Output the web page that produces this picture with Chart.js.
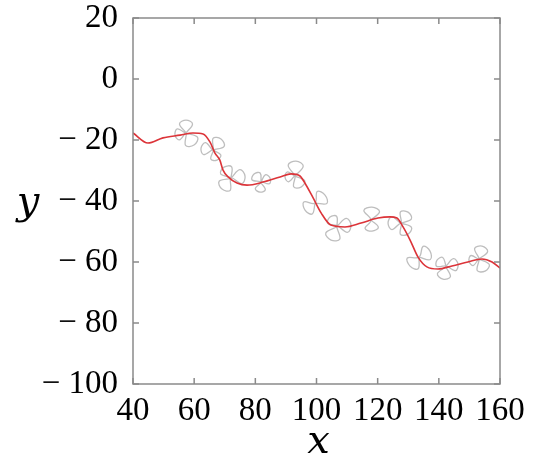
<!DOCTYPE html>
<html>
<head>
<meta charset="utf-8">
<script src="https://cdn.jsdelivr.net/npm/chart.js@4"></script>
<style>
  html, body { margin: 0; padding: 0; background: #fff; }
  #wrap { width: 539px; height: 463px; }
</style>
</head>
<body>
<div id="wrap"><canvas id="chart" width="539" height="463"></canvas></div>
<script>
// ── Data ────────────────────────────────────────────────────
const xTickLabels = ['40', '60', '80', '100', '120', '140', '160'];
const yTickLabels = ['\u2212 100', '\u2212 80', '\u2212 60', '\u2212 40', '\u2212 20', '0', '20'];

// smooth red curve
const redX = [40, 44.9, 49.8, 55.4, 59.6, 62.9, 65.2, 66.8, 68.4, 69.4, 71.1, 74.0, 77.3, 82.5, 88.1, 91.7,
              94.6, 96.2, 98.9, 101.5, 104.7, 109.3, 114.6, 120.1, 124.0, 126.3, 128.3, 130.6, 133.2, 136.1,
              139.7, 144.3, 149.5, 154.1, 157.4, 160];
const redY = [-17.7, -21.0, -19.3, -18.4, -17.7, -18.0, -20.7, -24.3, -26.6, -29.8, -32.1, -34.1, -34.8, -33.8, -32.1, -31.1,
              -31.8, -34.1, -39.0, -43.9, -47.9, -48.5, -47.2, -45.6, -45.2, -45.6, -48.5, -52.8, -58.4, -61.6,
              -62.3, -61.3, -60.0, -59.0, -60.0, -62.0];

// grey looped curve, one list of [x, y] per cluster of loops
const grayLoops = [
  [[57.33,-17.72],[59.46,-14.74],[57.33,-13.46],[55.20,-14.74],[57.33,-17.72],[54.49,-16.38],[53.74,-18.38],[55.15,-19.98],
   [57.33,-17.72],[57.19,-21.79],[59.95,-21.66],[61.13,-19.17],[57.33,-17.72]],
  [[66.16,-23.30],[69.80,-22.08],[68.78,-19.69],[66.18,-19.46],[66.16,-23.30],[63.75,-20.88],[62.24,-22.64],[63.09,-24.80],
   [66.16,-23.30],[65.44,-26.26],[67.47,-26.58],[68.72,-24.94],[66.16,-23.30]],
  [[72.05,-32.48],[72.25,-28.81],[69.76,-28.88],[68.65,-31.11],[72.05,-32.48],[68.17,-33.53],[69.10,-36.09],[71.79,-36.49],
   [72.05,-32.48],[75.59,-34.31],[76.63,-31.83],[74.93,-29.73],[72.05,-32.48]],
  [[81.86,-33.80],[81.58,-30.81],[79.57,-31.17],[78.94,-33.11],[81.86,-33.80],[79.99,-35.93],[81.53,-37.08],[83.27,-36.27],
   [81.86,-33.80],[84.58,-34.35],[84.80,-32.48],[83.26,-31.41],[81.86,-33.80]],
  [[92.98,-31.83],[95.66,-28.55],[93.30,-26.91],[90.74,-28.23],[92.98,-31.83],[90.52,-30.42],[89.71,-32.16],[90.86,-33.70],
   [92.98,-31.83],[92.54,-35.34],[94.94,-35.44],[96.16,-33.38],[92.98,-31.83]],
  [[99.52,-40.68],[103.38,-40.81],[102.79,-38.06],[100.24,-36.89],[99.52,-40.68],[95.85,-40.33],[96.25,-42.98],[98.61,-44.25],
   [99.52,-40.68]],
  [[106.71,-48.23],[106.59,-45.01],[104.42,-45.28],[103.63,-47.31],[106.71,-48.23],[103.04,-50.46],[104.75,-52.82],[107.64,-52.42],
   [106.71,-48.23],[110.09,-50.29],[111.29,-47.90],[109.75,-45.71],[106.71,-48.23]],
  [[117.83,-46.26],[120.61,-43.47],[118.15,-42.00],[115.49,-43.09],[117.83,-46.26],[115.88,-48.98],[118.15,-49.87],[120.22,-48.60],
   [117.83,-46.26]],
  [[127.64,-47.24],[131.04,-45.87],[129.93,-43.64],[127.44,-43.57],[127.64,-47.24],[124.66,-45.11],[123.39,-47.24],[124.66,-49.37],
   [127.64,-47.24],[127.43,-50.92],[129.93,-50.85],[131.05,-48.62],[127.64,-47.24]],
  [[133.52,-58.40],[137.22,-59.18],[137.12,-56.43],[134.86,-54.86],[133.52,-58.40],[129.69,-58.71],[130.58,-61.35],[133.23,-62.23],
   [133.52,-58.40]],
  [[142.35,-61.35],[141.28,-58.50],[139.41,-59.38],[139.30,-61.44],[142.35,-61.35],[139.53,-63.84],[141.37,-65.61],[143.79,-64.82],
   [142.35,-61.35],[145.43,-62.86],[146.28,-60.69],[144.77,-58.92],[142.35,-61.35]],
  [[153.14,-59.05],[155.96,-56.56],[154.12,-54.79],[151.70,-55.58],[153.14,-59.05],[150.52,-57.87],[149.87,-59.71],[151.18,-61.15],
   [153.14,-59.05],[152.55,-62.80],[155.11,-62.99],[156.49,-60.82],[153.14,-59.05]]
];

const TICK_FONT  = '"Liberation Serif", "DejaVu Serif", serif';
const TITLE_FONT = 'italic 40px "DejaVu Serif", serif';

// ── Frame with inward ticks + axis letters ──────────────────
const framePlugin = {
  id: 'frame',
  afterDatasetsDraw(chart) {
    const { ctx, chartArea: a, scales: { x, y } } = chart;
    ctx.save();
    ctx.strokeStyle = '#8a8a8a';
    ctx.lineWidth = 1.5;
    ctx.strokeRect(a.left, a.top, a.right - a.left, a.bottom - a.top);
    ctx.beginPath();
    x.ticks.forEach(t => {
      const px = x.getPixelForValue(t.value);
      ctx.moveTo(px, a.bottom); ctx.lineTo(px, a.bottom - 6);
      ctx.moveTo(px, a.top);    ctx.lineTo(px, a.top + 6);
    });
    y.ticks.forEach(t => {
      const py = y.getPixelForValue(t.value);
      ctx.moveTo(a.left, py);  ctx.lineTo(a.left + 6, py);
      ctx.moveTo(a.right, py); ctx.lineTo(a.right - 6, py);
    });
    ctx.stroke();

    ctx.fillStyle = '#000';
    ctx.font = TITLE_FONT;
    ctx.textAlign = 'center';
    ctx.textBaseline = 'alphabetic';
    ctx.fillText('y', 28, 214);
    ctx.fillText('x', (a.left + a.right) / 2 + 2, 453);
    ctx.restore();
  }
};

const datasets = [{
  label: 'mean',
  data: redX.map((v, i) => ({ x: v, y: redY[i] })),
  borderColor: '#dc3439',
  borderWidth: 1.6,
  pointRadius: 0,
  cubicInterpolationMode: 'monotone',
  fill: false
}].concat(grayLoops.map((loop, i) => ({
  label: 'loop ' + (i + 1),
  data: loop.map(p => ({ x: p[0], y: p[1] })),
  borderColor: '#bebebe',
  borderWidth: 1.3,
  pointRadius: 0,
  tension: 0.4,
  fill: false
})));

new Chart(document.getElementById('chart'), {
  type: 'line',
  data: { datasets },
  options: {
    responsive: false,
    animation: false,
    layout: { padding: { left: 0, right: 39, top: 18, bottom: 0 } },
    plugins: { legend: { display: false }, tooltip: { enabled: false } },
    scales: {
      x: {
        type: 'linear', min: 40, max: 160,
        grid: { display: false, drawTicks: false },
        border: { display: false },
        ticks: {
          stepSize: 20, padding: 8, color: '#000', maxRotation: 0,
          font: { family: TICK_FONT, size: 33 },
          callback: (v, i) => xTickLabels[i]
        },
        afterFit(s) { s.height = 79; s.paddingLeft = 0; s.paddingRight = 0; }
      },
      y: {
        type: 'linear', min: -100, max: 20,
        grid: { display: false, drawTicks: false },
        border: { display: false },
        ticks: {
          stepSize: 20, padding: 15, color: '#000',
          font: { family: TICK_FONT, size: 33 },
          callback: (v, i) => yTickLabels[i]
        },
        afterFit(s) { s.width = 133; s.paddingTop = 0; s.paddingBottom = 0; }
      }
    }
  },
  plugins: [framePlugin]
});
</script>
</body>
</html>
